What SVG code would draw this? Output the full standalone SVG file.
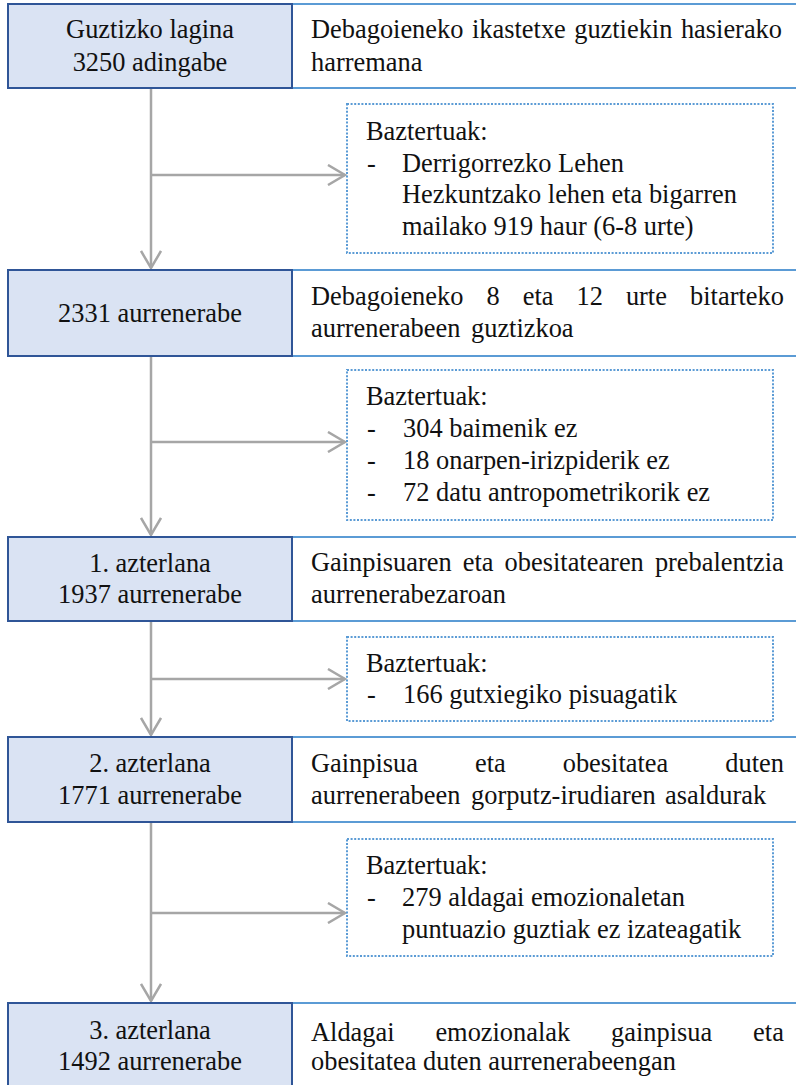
<svg xmlns="http://www.w3.org/2000/svg" width="796" height="1085" viewBox="0 0 796 1085" font-family="'Liberation Serif', 'Times New Roman', Times, 'DejaVu Serif', serif">
<style>
.lb{fill:#dae3f3;stroke:#2f5597;stroke-width:2}
.rl{stroke:#5b9bd5;stroke-width:2}
.ex{fill:none;stroke:#5b9bd5;stroke-width:2;stroke-dasharray:2 1.6}
.cn{fill:none;stroke:#a6a6a6;stroke-width:2.5}
text{font-family:'Liberation Serif','Times New Roman',Times,'DejaVu Serif',serif;font-size:26.4px;fill:#111}
.c{text-anchor:middle}
</style>
<defs>
<marker id="ah" viewBox="0 0 20 22" refX="18" refY="11" markerWidth="20" markerHeight="22" markerUnits="userSpaceOnUse" orient="auto">
<path d="M1,1 L18,11 L1,21" fill="none" stroke="#a6a6a6" stroke-width="2.5"/>
</marker>
</defs>
<rect width="796" height="1085" fill="#fff"/>

<g id="connectors">
<path class="cn" d="M151,88 V268" marker-end="url(#ah)"/>
<path class="cn" d="M151,175 H345" marker-end="url(#ah)"/>
<path class="cn" d="M151,356 V535" marker-end="url(#ah)"/>
<path class="cn" d="M151,442 H345" marker-end="url(#ah)"/>
<path class="cn" d="M151,621 V735" marker-end="url(#ah)"/>
<path class="cn" d="M151,679 H345" marker-end="url(#ah)"/>
<path class="cn" d="M151,822 V1001" marker-end="url(#ah)"/>
<path class="cn" d="M151,913 H345" marker-end="url(#ah)"/>
</g>

<g id="node1">
<line class="rl" x1="292" y1="4" x2="796" y2="4"/>
<line class="rl" x1="292" y1="88" x2="796" y2="88"/>
<rect class="lb" x="8" y="4" width="284" height="84"/>
<text class="c" x="150" y="38">Guztizko lagina</text>
<text class="c" x="150" y="71">3250 adingabe</text>
<text y="38"><tspan x="311">Debagoieneko</tspan><tspan x="472">ikastetxe</tspan><tspan x="574.2">guztiekin</tspan><tspan x="680.9">hasierako</tspan></text>
<text x="311" y="71">harremana</text>
</g>

<g id="excl1">
<rect class="ex" x="347" y="104" width="426" height="149"/>
<text x="366" y="140">Baztertuak:</text>
<text x="367" y="172">-</text>
<text x="402" y="172">Derrigorrezko Lehen</text>
<text x="402" y="203">Hezkuntzako lehen eta bigarren</text>
<text x="402" y="235">mailako 919 haur (6-8 urte)</text>
</g>

<g id="node2">
<line class="rl" x1="292" y1="270" x2="796" y2="270"/>
<line class="rl" x1="292" y1="356" x2="796" y2="356"/>
<rect class="lb" x="8" y="270" width="284" height="86"/>
<text class="c" x="150" y="322">2331 aurrenerabe</text>
<text y="305"><tspan x="311">Debagoieneko</tspan><tspan x="486.5">8</tspan><tspan x="522.7">eta</tspan><tspan x="576.5">12</tspan><tspan x="625.9">urte</tspan><tspan x="690.1">bitarteko</tspan></text>
<text y="337"><tspan x="311">aurrenerabeen</tspan><tspan x="471">guztizkoa</tspan></text>
</g>

<g id="excl2">
<rect class="ex" x="347" y="370" width="426" height="150"/>
<text x="366" y="405">Baztertuak:</text>
<text x="367" y="437">-</text>
<text x="403" y="437">304 baimenik ez</text>
<text x="367" y="469">-</text>
<text x="403" y="469">18 onarpen-irizpiderik ez</text>
<text x="367" y="501">-</text>
<text x="403" y="501">72 datu antropometrikorik ez</text>
</g>

<g id="node3">
<line class="rl" x1="292" y1="537" x2="796" y2="537"/>
<line class="rl" x1="292" y1="621" x2="796" y2="621"/>
<rect class="lb" x="8" y="537" width="284" height="84"/>
<text class="c" x="150" y="572">1. azterlana</text>
<text class="c" x="150" y="603">1937 aurrenerabe</text>
<text y="571"><tspan x="311">Gainpisuaren</tspan><tspan x="462.8">eta</tspan><tspan x="504.6">obesitatearen</tspan><tspan x="654.9">prebalentzia</tspan></text>
<text x="311" y="603">aurrenerabezaroan</text>
</g>

<g id="excl3">
<rect class="ex" x="347" y="637" width="426" height="84"/>
<text x="366" y="672">Baztertuak:</text>
<text x="367" y="703">-</text>
<text x="403" y="703">166 gutxiegiko pisuagatik</text>
</g>

<g id="node4">
<line class="rl" x1="292" y1="737" x2="796" y2="737"/>
<line class="rl" x1="292" y1="822" x2="796" y2="822"/>
<rect class="lb" x="8" y="737" width="284" height="85"/>
<text class="c" x="150" y="772">2. azterlana</text>
<text class="c" x="150" y="804">1771 aurrenerabe</text>
<text y="772"><tspan x="311">Gainpisua</tspan><tspan x="475">eta</tspan><tspan x="562.7">obesitatea</tspan><tspan x="725.3">duten</tspan></text>
<text y="804"><tspan x="311">aurrenerabeen</tspan><tspan x="471">gorputz-irudiaren</tspan><tspan x="665">asaldurak</tspan></text>
</g>

<g id="excl4">
<rect class="ex" x="347" y="839" width="426" height="117"/>
<text x="366" y="874">Baztertuak:</text>
<text x="367" y="906">-</text>
<text x="402" y="906">279 aldagai emozionaletan</text>
<text x="402" y="938">puntuazio guztiak ez izateagatik</text>
</g>

<g id="node5">
<line class="rl" x1="292" y1="1003" x2="796" y2="1003"/>
<rect class="lb" x="8" y="1003" width="284" height="90"/>
<text class="c" x="150" y="1039">3. azterlana</text>
<text class="c" x="150" y="1070">1492 aurrenerabe</text>
<text y="1041"><tspan x="311">Aldagai</tspan><tspan x="435.4">emozionalak</tspan><tspan x="611.1">gainpisua</tspan><tspan x="753.1">eta</tspan></text>
<text x="311" y="1070">obesitatea duten aurrenerabeengan</text>
</g>
</svg>
